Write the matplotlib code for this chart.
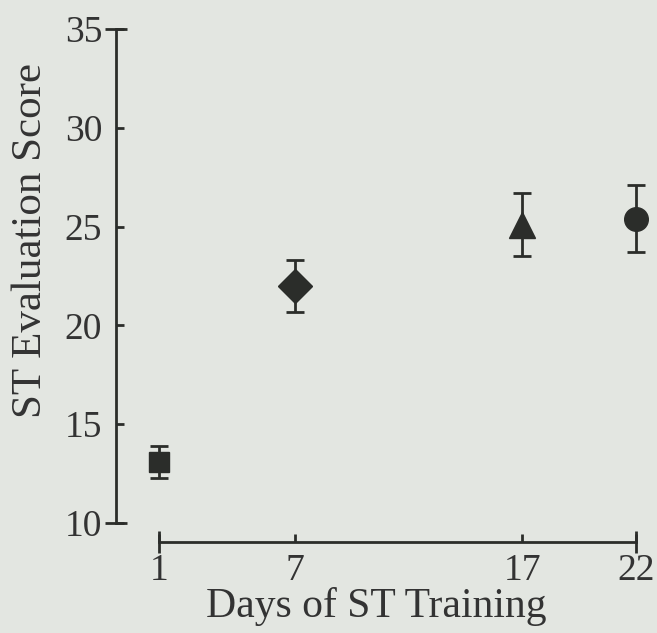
import matplotlib.pyplot as plt

# Days of training and evaluation scores (mean +/- error)
days = [1, 7, 17, 22]
scores = [13.1, 22.0, 25.1, 25.4]
errors = [0.8, 1.3, 1.6, 1.7]
markers = ["s", "D", "^", "o"]
marker_sizes = [14, 17, 19, 17]

bg = "#e3e6e1"
ink = "#2b2d2a"

plt.rcParams["font.family"] = ["Liberation Serif", "DejaVu Serif"]

fig = plt.figure(figsize=(6.57, 6.33), dpi=100, facecolor=bg)
ax = fig.add_axes([0.1766, 0.1438, 0.822, 0.826], facecolor=bg)

for d, s, e, m, ms in zip(days, scores, errors, markers, marker_sizes):
    ax.errorbar(d, s, yerr=e, fmt=m, ms=ms, color=ink, ecolor=ink,
                elinewidth=2, capsize=6.5, capthick=2)

ax.set_xlim(-0.9, 22.9)
ax.set_ylim(9.04, 35.5)

for side in ["top", "right"]:
    ax.spines[side].set_visible(False)
ax.spines["left"].set_bounds(10, 35)
ax.spines["bottom"].set_bounds(1, 22)
for side in ["left", "bottom"]:
    ax.spines[side].set_color(ink)
    ax.spines[side].set_linewidth(2)

ax.set_yticks([10, 15, 20, 25, 30, 35])
ax.set_xticks(days)
# end ticks cross the axis line, inner ones point inward
ax.xaxis.remove_overlapping_locs = False
ax.yaxis.remove_overlapping_locs = False
ax.set_yticks([10, 35], minor=True)
ax.set_xticks([1, 22], minor=True)
ax.tick_params(which="major", direction="in", length=6, width=2, color=ink,
               labelsize=27, labelcolor="#333333")
ax.tick_params(which="minor", direction="inout", length=16, width=2, color=ink)
ax.tick_params(axis="y", which="major", pad=10)
ax.tick_params(axis="x", which="major", pad=8)

ax.set_xlabel("Days of ST Training", fontsize=30, color="#333333")
ax.set_ylabel("ST Evaluation Score", fontsize=31, color="#333333")
ax.xaxis.set_label_coords(0.481, -0.086)
ax.yaxis.set_label_coords(-0.122, 0.577)

fig.savefig("out.png", dpi=100, facecolor=bg)
